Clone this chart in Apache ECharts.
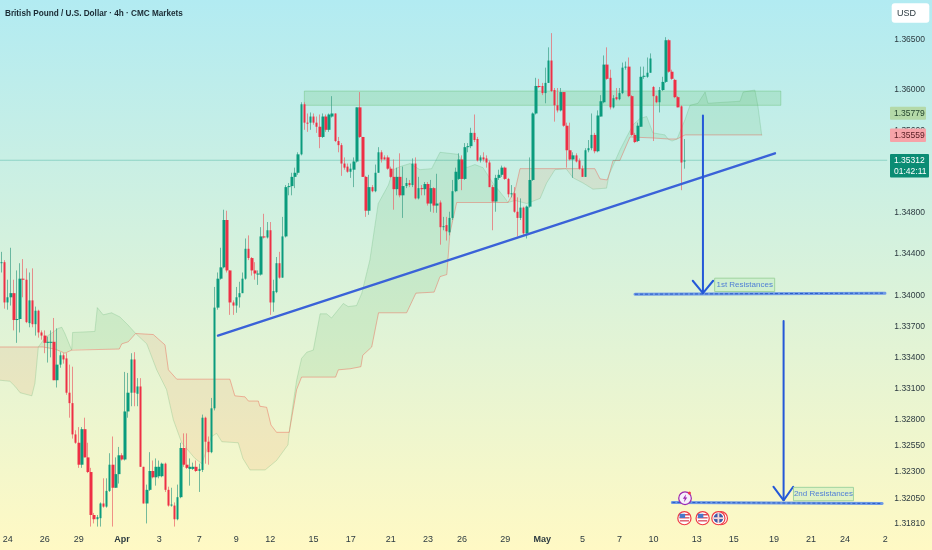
<!DOCTYPE html>
<html><head><meta charset="utf-8">
<style>html,body{margin:0;padding:0;background:#fff}#c{width:932px;height:550px}</style>
<script src="https://cdn.jsdelivr.net/npm/echarts@6/dist/echarts.min.js"></script>
</head><body><div id="c"></div>
<script>
const opens=[1.3431,1.3432,1.3393,1.3398,1.3402,1.3376,1.3377,1.3416,1.3415,1.3373,
1.3395,1.3372,1.3385,1.3364,1.3361,1.3354,1.3354,1.3355,1.3318,1.3333,
1.3342,1.3339,1.3306,1.3296,1.3266,1.3258,1.3237,1.3271,1.3244,1.3230,
1.3189,1.3185,1.3186,1.3200,1.3197,1.3212,1.3237,1.3215,1.3228,1.3246,
1.3242,1.3288,1.3306,1.3338,1.3305,1.3312,1.3235,1.3200,1.3213,1.3231,
1.3225,1.3226,1.3226,1.3238,1.3213,1.3198,1.3198,1.3185,1.3206,1.3253,
1.3237,1.3233,1.3233,1.3235,1.3231,1.3232,1.3282,1.3259,1.3249,1.3291,
1.3388,1.3416,1.3427,1.3473,1.3424,1.3393,1.3390,1.3398,1.3402,1.3416,
1.3445,1.3436,1.3424,1.3420,1.3420,1.3457,1.3456,1.3463,1.3393,1.3403,
1.3431,1.3417,1.3457,1.3505,1.3506,1.3515,1.3519,1.3537,1.3586,1.3568,
1.3568,1.3574,1.3568,1.3564,1.3554,1.3574,1.3561,1.3574,1.3577,1.3550,
1.3546,1.3528,1.3525,1.3520,1.3522,1.3530,1.3583,1.3554,1.3515,1.3482,
1.3505,1.3501,1.3519,1.3539,1.3534,1.3534,1.3523,1.3515,1.3503,1.3515,
1.3497,1.3506,1.3509,1.3507,1.3528,1.3494,1.3504,1.3503,1.3508,1.3489,
1.3504,1.3487,1.3490,1.3466,1.3468,1.3461,1.3475,1.3501,1.3513,1.3532,
1.3513,1.3544,1.3545,1.3558,1.3552,1.3531,1.3534,1.3533,1.3529,1.3505,
1.3491,1.3514,1.3517,1.3524,1.3513,1.3498,1.3499,1.3481,1.3475,1.3485,
1.3460,1.3486,1.3512,1.3577,1.3604,1.3604,1.3597,1.3607,1.3629,1.3600,
1.3585,1.3580,1.3598,1.3565,1.3541,1.3532,1.3536,1.3531,1.3523,1.3515,
1.3541,1.3543,1.3556,1.3540,1.3574,1.3588,1.3625,1.3612,1.3583,1.3593,
1.3591,1.3597,1.3622,1.3623,1.3594,1.3556,1.3550,1.3564,1.3613,1.3613,
1.3617,1.3603,1.3594,1.3588,1.3600,1.3608,1.3649,1.3618,1.3610,1.3593,
1.3584,1.3530];
const closes=[1.3432,1.3393,1.3398,1.3402,1.3376,1.3377,1.3416,1.3415,1.3374,1.3395,
1.3372,1.3385,1.3364,1.3361,1.3354,1.3355,1.3355,1.3318,1.3333,1.3342,
1.3338,1.3306,1.3296,1.3266,1.3258,1.3237,1.3271,1.3244,1.3230,1.3189,
1.3185,1.3187,1.3200,1.3197,1.3212,1.3237,1.3215,1.3228,1.3246,1.3242,
1.3288,1.3306,1.3338,1.3306,1.3312,1.3235,1.3200,1.3213,1.3231,1.3225,
1.3235,1.3235,1.3238,1.3213,1.3198,1.3199,1.3185,1.3206,1.3253,1.3237,
1.3234,1.3235,1.3235,1.3231,1.3233,1.3282,1.3259,1.3249,1.3291,1.3388,
1.3416,1.3427,1.3473,1.3424,1.3393,1.3390,1.3398,1.3402,1.3416,1.3445,
1.3436,1.3424,1.3421,1.3421,1.3457,1.3456,1.3463,1.3393,1.3404,1.3431,
1.3417,1.3457,1.3505,1.3506,1.3515,1.3519,1.3537,1.3586,1.3568,1.3567,
1.3574,1.3568,1.3564,1.3554,1.3574,1.3561,1.3576,1.3577,1.3550,1.3546,
1.3528,1.3524,1.3520,1.3523,1.3530,1.3583,1.3554,1.3515,1.3482,1.3505,
1.3501,1.3519,1.3539,1.3532,1.3532,1.3523,1.3515,1.3503,1.3515,1.3497,
1.3506,1.3509,1.3507,1.3528,1.3494,1.3504,1.3503,1.3508,1.3489,1.3504,
1.3487,1.3489,1.3466,1.3467,1.3462,1.3475,1.3501,1.3520,1.3532,1.3513,
1.3544,1.3545,1.3558,1.3551,1.3531,1.3534,1.3532,1.3529,1.3505,1.3491,
1.3514,1.3517,1.3524,1.3513,1.3498,1.3499,1.3481,1.3475,1.3485,1.3460,
1.3486,1.3512,1.3577,1.3604,1.3603,1.3597,1.3607,1.3629,1.3599,1.3585,
1.3580,1.3598,1.3565,1.3541,1.3532,1.3536,1.3530,1.3523,1.3515,1.3541,
1.3543,1.3556,1.3540,1.3575,1.3589,1.3625,1.3611,1.3583,1.3592,1.3591,
1.3597,1.3622,1.3623,1.3594,1.3556,1.3549,1.3565,1.3613,1.3614,1.3617,
1.3631,1.3594,1.3588,1.3600,1.3608,1.3649,1.3618,1.3611,1.3593,1.3583,
1.3529,1.3531];
const lows=[1.3422,1.3387,1.3386,1.3390,1.3366,1.3354,1.3364,1.3398,1.3373,1.3369,
1.3369,1.3361,1.3359,1.3357,1.3344,1.3335,1.3340,1.3318,1.3311,1.3330,
1.3334,1.3304,1.3282,1.3262,1.3257,1.3234,1.3234,1.3244,1.3229,1.3178,
1.3181,1.3178,1.3178,1.3196,1.3196,1.3211,1.3178,1.3215,1.3219,1.3241,
1.3241,1.3282,1.3293,1.3293,1.3293,1.3235,1.3200,1.3181,1.3212,1.3224,
1.3217,1.3224,1.3225,1.3211,1.3197,1.3197,1.3178,1.3184,1.3205,1.3235,
1.3233,1.3217,1.3232,1.3230,1.3211,1.3230,1.3238,1.3237,1.3248,1.3289,
1.3386,1.3415,1.3426,1.3422,1.3381,1.3381,1.3383,1.3388,1.3402,1.3415,
1.3434,1.3419,1.3415,1.3410,1.3419,1.3455,1.3455,1.3381,1.3384,1.3402,
1.3416,1.3417,1.3456,1.3497,1.3497,1.3504,1.3517,1.3536,1.3561,1.3559,
1.3561,1.3566,1.3558,1.3543,1.3553,1.3559,1.3559,1.3573,1.3549,1.3539,
1.3516,1.3522,1.3519,1.3514,1.3505,1.3529,1.3553,1.3515,1.3476,1.3478,
1.3500,1.3500,1.3519,1.3529,1.3532,1.3522,1.3514,1.3483,1.3497,1.3495,
1.3475,1.3504,1.3505,1.3505,1.3493,1.3493,1.3497,1.3497,1.3487,1.3481,
1.3480,1.3480,1.3449,1.3463,1.3453,1.3458,1.3473,1.3500,1.3512,1.3502,
1.3512,1.3539,1.3543,1.3549,1.3530,1.3529,1.3530,1.3524,1.3505,1.3463,
1.3481,1.3512,1.3515,1.3512,1.3495,1.3495,1.3480,1.3457,1.3473,1.3458,
1.3455,1.3485,1.3511,1.3576,1.3602,1.3595,1.3587,1.3607,1.3598,1.3569,
1.3578,1.3579,1.3564,1.3524,1.3531,1.3514,1.3529,1.3522,1.3515,1.3515,
1.3539,1.3541,1.3538,1.3539,1.3574,1.3587,1.3610,1.3581,1.3582,1.3590,
1.3590,1.3596,1.3620,1.3593,1.3555,1.3548,1.3549,1.3564,1.3611,1.3612,
1.3617,1.3550,1.3587,1.3578,1.3599,1.3607,1.3617,1.3610,1.3592,1.3583,
1.3502,1.3523];
const highs=[1.3442,1.3434,1.3415,1.3446,1.3415,1.3424,1.3431,1.3435,1.3426,1.3422,
1.3426,1.3389,1.3386,1.3366,1.3366,1.3360,1.3366,1.3378,1.3368,1.3345,
1.3344,1.3344,1.3333,1.3331,1.3270,1.3273,1.3273,1.3282,1.3258,1.3234,
1.3191,1.3189,1.3201,1.3224,1.3224,1.3248,1.3264,1.3244,1.3254,1.3248,
1.3326,1.3325,1.3344,1.3345,1.3320,1.3320,1.3235,1.3218,1.3249,1.3241,
1.3243,1.3241,1.3239,1.3239,1.3216,1.3215,1.3201,1.3218,1.3258,1.3267,
1.3267,1.3243,1.3239,1.3241,1.3238,1.3285,1.3283,1.3264,1.3301,1.3408,
1.3422,1.3446,1.3483,1.3482,1.3424,1.3395,1.3408,1.3413,1.3422,1.3455,
1.3458,1.3437,1.3432,1.3424,1.3466,1.3479,1.3471,1.3471,1.3415,1.3437,
1.3442,1.3476,1.3507,1.3509,1.3519,1.3524,1.3539,1.3588,1.3588,1.3577,
1.3578,1.3577,1.3574,1.3576,1.3577,1.3576,1.3577,1.3594,1.3577,1.3554,
1.3548,1.3534,1.3528,1.3528,1.3534,1.3583,1.3598,1.3554,1.3516,1.3517,
1.3507,1.3527,1.3544,1.3541,1.3536,1.3536,1.3525,1.3532,1.3524,1.3538,
1.3525,1.3514,1.3512,1.3533,1.3534,1.3515,1.3507,1.3510,1.3510,1.3512,
1.3505,1.3518,1.3492,1.3476,1.3476,1.3481,1.3512,1.3524,1.3538,1.3536,
1.3548,1.3548,1.3563,1.3576,1.3554,1.3536,1.3539,1.3536,1.3531,1.3507,
1.3517,1.3522,1.3526,1.3525,1.3514,1.3507,1.3505,1.3495,1.3494,1.3486,
1.3487,1.3534,1.3578,1.3612,1.3611,1.3607,1.3622,1.3642,1.3656,1.3602,
1.3602,1.3602,1.3598,1.3568,1.3568,1.3539,1.3538,1.3533,1.3526,1.3543,
1.3551,1.3577,1.3558,1.3580,1.3595,1.3634,1.3642,1.3620,1.3595,1.3602,
1.3602,1.3627,1.3628,1.3632,1.3595,1.3558,1.3568,1.3623,1.3623,1.3632,
1.3636,1.3604,1.3595,1.3603,1.3613,1.3652,1.3650,1.3620,1.3611,1.3594,
1.3585,1.3552];

const barSlots=287;
const tickBars=[2,14,25,39,51,64,76,87,101,113,126,138,149.5,163,175,188,200,211,225,237,250,262,273,286];
const tickLabels=['24','26','29','Apr','3','7','9','12','15','17','21','23','26','29','May','5','7','10','13','15','19','21','24','2'];
const priceTicks=[1.365,1.36,1.356,1.352,1.348,1.344,1.34,1.337,1.334,1.331,1.328,1.3255,1.323,1.3205,1.3181];

const spanABars=[-0.5,2.7,4.4,6,9.8,10.8,11.9,14.1,18.4,19.5,20.5,22.7,23,30.2,31,32.9,35.6,38.3,41,43.4,47,50.2,53.4,55.6,58.3,62.6,64.8,68,69.6,71.3,76.6,78.1,80.4,85.3,89,92.7,93.1,93.9,95.5,97.1,98.8,100.9,103.1,105.2,106.8,110.6,112.2,114.9,116.6,119.2,121.9,125.2,126.8,129,132.2,135.4,139.2,141.9,147.7,150.5,153.2,155.8,159,163,163.9,166.2,170,174.3,176.4,179.1,182.7,185,188.2,191.4,195.8,196.6,200.1,202.3,204.4,206.6,208.8,210.8,214.7,215.7,217,218.6,221.2,222.8,225.4,227.7,228.6,239,240,243.8,244.8,246];
const spanAPrices=[1.3318,1.3317,1.3312,1.3306,1.3303,1.3315,1.3350,1.3359,1.3368,1.3369,1.3363,1.3347,1.3364,1.3365,1.3388,1.3381,1.3383,1.3379,1.3371,1.3363,1.3353,1.3328,1.3309,1.3280,1.3258,1.3243,1.3238,1.3264,1.3267,1.3259,1.3258,1.3243,1.3232,1.3232,1.3241,1.3256,1.3268,1.3286,1.3318,1.3339,1.3345,1.3347,1.3382,1.3382,1.3378,1.3392,1.3389,1.3390,1.3402,1.3434,1.3489,1.3507,1.3522,1.3525,1.3528,1.3522,1.3523,1.3539,1.3537,1.3524,1.3527,1.3524,1.3509,1.3494,1.3490,1.3492,1.3489,1.3494,1.3509,1.3522,1.3523,1.3514,1.3509,1.3503,1.3504,1.3517,1.3541,1.3554,1.3566,1.3572,1.3574,1.3558,1.3556,1.3552,1.3550,1.3552,1.3571,1.3585,1.3587,1.3598,1.3587,1.3589,1.3598,1.3600,1.3584,1.3556];
const spanBBars=[-0.5,11.9,13.4,17.3,20.5,22.7,23,38.1,38.9,41,43.4,49.1,52.9,54,56.7,73.9,75.5,78.8,79.9,83.1,83.6,85.8,87.2,89,93.1,95.5,97.1,108.1,109,112.8,116.3,116.9,119.8,122,131.1,134.1,140,141.9,144.1,145.1,147.3,163.9,166.2,167.8,192,193.7,196,196.6,197.9,200.1,203.4,210.8,215.7,218.6,221.2,246];
const spanBPrices=[1.3350,1.3350,1.3350,1.3348,1.3344,1.3347,1.3348,1.3348,1.3353,1.3355,1.3363,1.3362,1.3352,1.3328,1.3319,1.3319,1.3303,1.3302,1.3298,1.3298,1.3293,1.3292,1.3275,1.3268,1.3268,1.3309,1.3321,1.3321,1.3328,1.3329,1.3331,1.3342,1.3350,1.3383,1.3383,1.3402,1.3403,1.3418,1.3420,1.3460,1.3490,1.3490,1.3502,1.3523,1.3523,1.3513,1.3512,1.3517,1.3531,1.3531,1.3554,1.3553,1.3552,1.3552,1.3556,1.3556];
const cloudStarts=[-0.5,11.9,22.7,43.4,93.1,163.9,196.6,215.7,218.6];
const cloudEnds=[11.9,22.7,43.4,93.1,163.9,196.6,215.7,218.6,246];
const cloudBullish=[false,true,true,false,true,false,true,false,true];

const trendBars=[70.05,250.3], trendPrices=[1.3361,1.3538];
const zoneBars=[98,252.2], zonePrices=[1.3599,1.3585];
const currentPrice=1.35312;
const level1Bars=[205,285.9], level1Prices=[1.3401,1.3402];
const level2Bars=[217.1,285], level2Prices=[1.3201,1.3200];
const arrow1Bars=[227,227], arrow1Prices=[1.3575,1.3402];
const arrow1HeadBars=[223.7,227,230.3], arrow1HeadPrices=[1.3414,1.3402,1.3414];
const arrow2Bars=[253.1,253.1], arrow2Prices=[1.3375,1.3203];
const arrow2HeadBars=[249.8,253.1,256.2], arrow2HeadPrices=[1.3216,1.3203,1.3216];
const noteBars=[240.5,266], notePrices=[1.3410,1.3209], noteTexts=['1st Resistances','2nd Resistances'];
const eventBars=[221.2,221,226.9,232.8,232], eventPrices=[1.3205,1.3186,1.3186,1.3186,1.3186], eventKinds=['bolt','us','us','ring','uk'];
const tagPrices=[1.35779,1.35559,1.35312];
const tagTexts=['1.35779','1.35559','1.35312\n01:42:11'];
const tagFills=['#b4d9a8','#f6a3a8','#0b8c74'], tagInk=['#1f3f2a','#5a2026','#ffffff'], tagHeights=[13,13.5,23.5], tagWidths=[36,36,39];

const FONT='"Liberation Sans",sans-serif';
const GREEN='#0a9b7d', RED='#ee2f45', BLUE='#2458d8';
const zip=(a,b)=>a.map((v,i)=>[v,b[i]]);
const categories=Array.from({length:barSlots},(_,i)=>{const k=tickBars.findIndex(t=>Math.floor(t)===i);return k>=0?tickLabels[k]:'';});
const wicks=opens.map((o,i)=>[o,closes[i],lows[i],highs[i]]);
const bodies=opens.map((o,i)=>[o,closes[i],Math.min(o,closes[i]),Math.max(o,closes[i])]);
const overlay=(data,color,width,extra)=>Object.assign({type:'line',xAxisIndex:1,yAxisIndex:0,data,symbol:'none',silent:true,animation:false,z:6,lineStyle:{color,width,cap:'round'}},extra||{});

const option={
 animation:false,
 backgroundColor:new echarts.graphic.LinearGradient(0,0,0,1,[{offset:0,color:'#b2ebf2'},{offset:1,color:'#fff9c4'}]),
 title:{text:'British Pound / U.S. Dollar · 4h · CMC Markets',left:5,top:9.5,padding:0,textStyle:{fontFamily:FONT,fontSize:8.2,fontWeight:'bold',color:'#1a2a33'}},
 grid:{left:0,top:0,width:886.8,height:527,containLabel:false,outerBoundsMode:'none'},
 xAxis:[
  {type:'category',data:categories,boundaryGap:true,axisLine:{show:false},axisTick:{show:false},splitLine:{show:false},
   axisLabel:{interval:0,margin:8,hideOverlap:false,fontFamily:FONT,fontSize:9,color:'#2c3a40',
    formatter:v=>(v==='Apr'||v==='May')?'{b|'+v+'}':v,rich:{b:{fontFamily:FONT,fontSize:9,fontWeight:'bold',color:'#2c3a40'}}}},
  {type:'value',show:false,min:-0.5,max:barSlots-0.5,splitLine:{show:false}}
 ],
 yAxis:[{type:'log',logBase:10,position:'right',min:1.31776,max:1.36887,axisLine:{show:false},axisTick:{show:false},splitLine:{show:false},
  axisLabel:{customValues:priceTicks,margin:7.5,fontFamily:FONT,fontSize:8.5,color:'#2c3a40',formatter:v=>Number(v).toFixed(5)}}],
 graphic:[
  {type:'rect',left:891.7,top:3.3,shape:{width:37.6,height:19.4,r:3},style:{fill:'#ffffff'},z:20},
  {type:'text',left:897,top:9,style:{text:'USD',fontFamily:FONT,fontSize:9,fill:'#2c3a40'},z:21}
 ],
 series:[
  {type:'custom',name:'cloud',xAxisIndex:1,yAxisIndex:0,z:1,silent:true,clip:true,data:cloudStarts.map((s,i)=>[s,1.34,i]),encode:{x:0,y:1},
   renderItem:(p,api)=>{const i=api.value(2),a=cloudStarts[i],b=cloudEnds[i],pts=[];
    spanABars.forEach((x,k)=>{if(x>=a&&x<=b)pts.push(api.coord([x,spanAPrices[k]]));});
    const back=[];spanBBars.forEach((x,k)=>{if(x>=a&&x<=b)back.push(api.coord([x,spanBPrices[k]]));});
    return {type:'polygon',shape:{points:pts.concat(back.reverse())},style:{fill:cloudBullish[i]?'rgba(76,175,80,0.12)':'rgba(239,130,80,0.13)'}};}},
  overlay(zip(spanABars,spanAPrices),'rgba(90,175,110,0.25)',1,{z:2}),
  overlay(zip(spanBBars,spanBPrices),'rgba(235,100,85,0.45)',1,{z:2}),
  {type:'custom',name:'zone',xAxisIndex:1,yAxisIndex:0,z:3,silent:true,data:[[zoneBars[0],zonePrices[0]]],encode:{x:0,y:1},
   renderItem:(p,api)=>{const a=api.coord([zoneBars[0],zonePrices[0]]),b=api.coord([zoneBars[1],zonePrices[1]]);
    return {type:'rect',shape:{x:a[0],y:a[1],width:b[0]-a[0],height:b[1]-a[1]},style:{fill:'rgba(76,175,80,0.17)',stroke:'rgba(76,175,80,0.3)',lineWidth:1}};}},
  overlay(zip([-0.5,barSlots-0.5],[currentPrice,currentPrice]),'rgba(10,150,125,0.3)',1,{z:3}),
  {type:'candlestick',name:'wicks',xAxisIndex:0,yAxisIndex:0,data:wicks,barWidth:1,z:4,silent:true,clip:true,
   itemStyle:{color:'rgba(60,160,135,0.7)',color0:'rgba(235,100,105,0.7)',borderColor:'rgba(60,160,135,0.7)',borderColor0:'rgba(235,100,105,0.7)',borderWidth:1}},
  {type:'candlestick',name:'bodies',xAxisIndex:0,yAxisIndex:0,data:bodies,barWidth:3,z:5,silent:true,clip:true,
   itemStyle:{color:GREEN,color0:RED,borderColor:GREEN,borderColor0:RED,borderWidth:0}},
  overlay(zip(trendBars,trendPrices),'#3a62d8',2.4),
  overlay(zip(level1Bars,level1Prices),'#6f9be6',3),
  overlay(zip(level1Bars,level1Prices),'#2a5cc8',1,{lineStyle:{color:'#2a5cc8',width:1,type:[3,2]},z:7}),
  overlay(zip(level2Bars,level2Prices),'#6f9be6',3),
  overlay(zip(level2Bars,level2Prices),'#2a5cc8',1,{lineStyle:{color:'#2a5cc8',width:1,type:[3,2]},z:7}),
  overlay(zip(arrow1Bars,arrow1Prices),BLUE,2),
  overlay(zip(arrow1HeadBars,arrow1HeadPrices),BLUE,2),
  overlay(zip(arrow2Bars,arrow2Prices),BLUE,2),
  overlay(zip(arrow2HeadBars,arrow2HeadPrices),BLUE,2),
  {type:'custom',name:'notes',xAxisIndex:1,yAxisIndex:0,z:8,silent:true,data:noteBars.map((x,i)=>[x,notePrices[i],i]),encode:{x:0,y:1},
   renderItem:(p,api)=>{const c=api.coord([api.value(0),api.value(1)]);
    return {type:'group',children:[
     {type:'rect',shape:{x:c[0]-30,y:c[1]-6.7,width:60,height:13.4},style:{fill:'rgba(190,235,190,0.4)',stroke:'#9fd49f',lineWidth:1}},
     {type:'text',style:{x:c[0],y:c[1],text:noteTexts[api.value(2)],fontFamily:FONT,fontSize:8,fill:'#4f7fd6',align:'center',verticalAlign:'middle'}}]};}},
  {type:'custom',name:'events',xAxisIndex:1,yAxisIndex:0,z:9,silent:true,clip:false,data:eventBars.map((x,i)=>[x,eventPrices[i],i]),encode:{x:0,y:1},
   renderItem:(p,api)=>{const c=api.coord([api.value(0),api.value(1)]),k=eventKinds[api.value(2)],x=c[0],y=c[1],ch=[];
    if(k==='bolt'){
     ch.push({type:'circle',shape:{cx:x,cy:y,r:6.3},style:{fill:'#f6f0fb',stroke:'#9c27b0',lineWidth:1.2}});
     ch.push({type:'polygon',shape:{points:[[x+1,y-4],[x-2.2,y+0.6],[x-0.3,y+0.6],[x-1,y+4],[x+2.2,y-0.8],[x+0.3,y-0.8]]},style:{fill:'#9c27b0'}});
     ch.push({type:'circle',shape:{cx:x+4.4,cy:y-5.2,r:1.5},style:{fill:'#f23645'}});
    } else if(k==='ring'){
     ch.push({type:'circle',shape:{cx:x,cy:y,r:6.6},style:{fill:'#ffffff',stroke:'#ef3b45',lineWidth:1.2}});
    } else {
     ch.push({type:'circle',shape:{cx:x,cy:y,r:6.6},style:{fill:'#ffffff',stroke:'#ef3b45',lineWidth:1.2}});
     if(k==='us'){
      ch.push({type:'rect',shape:{x:x-5,y:y-4.2,width:10,height:1.5},style:{fill:'#d9485a'}});
      ch.push({type:'rect',shape:{x:x-5,y:y-1,width:10,height:1.3},style:{fill:'#d9485a'}});
      ch.push({type:'rect',shape:{x:x-4.6,y:y+2,width:9.2,height:1.3},style:{fill:'#d9485a'}});
      ch.push({type:'rect',shape:{x:x-4.8,y:y-4.4,width:5.5,height:4.2},style:{fill:'#4a78c8'}});
     } else {
      ch.push({type:'circle',shape:{cx:x,cy:y,r:4.8},style:{fill:'#3f5aa6'}});
      ch.push({type:'rect',shape:{x:x-5,y:y-0.9,width:10,height:1.8},style:{fill:'#f5d5d8'}});
      ch.push({type:'rect',shape:{x:x-0.9,y:y-5,width:1.8,height:10},style:{fill:'#f5d5d8'}});
     }
    }
    return {type:'group',children:ch};}},
  {type:'custom',name:'tags',xAxisIndex:1,yAxisIndex:0,z:12,silent:true,clip:false,data:tagPrices.map((v,i)=>[barSlots-0.5,v,i]),encode:{x:0,y:1},
   renderItem:(p,api)=>{const i=api.value(2),c=api.coord([api.value(0),api.value(1)]),x=c[0]+3.2,h=tagHeights[i],w=tagWidths[i],top=i===2?c[1]-6.3:c[1]-h/2+(i===0?0.8:0.3);
    return {type:'group',children:[
     {type:'rect',shape:{x,y:top,width:w,height:h,r:1},style:{fill:tagFills[i]}},
     {type:'text',style:{x:x+4,y:top+h/2,text:tagTexts[i],fontFamily:FONT,fontSize:8.5,lineHeight:11,fill:tagInk[i],align:'left',verticalAlign:'middle'}}]};}}
 ]
};
echarts.init(document.getElementById('c'),null,{renderer:'canvas',width:932,height:550}).setOption(option);
</script></body></html>
